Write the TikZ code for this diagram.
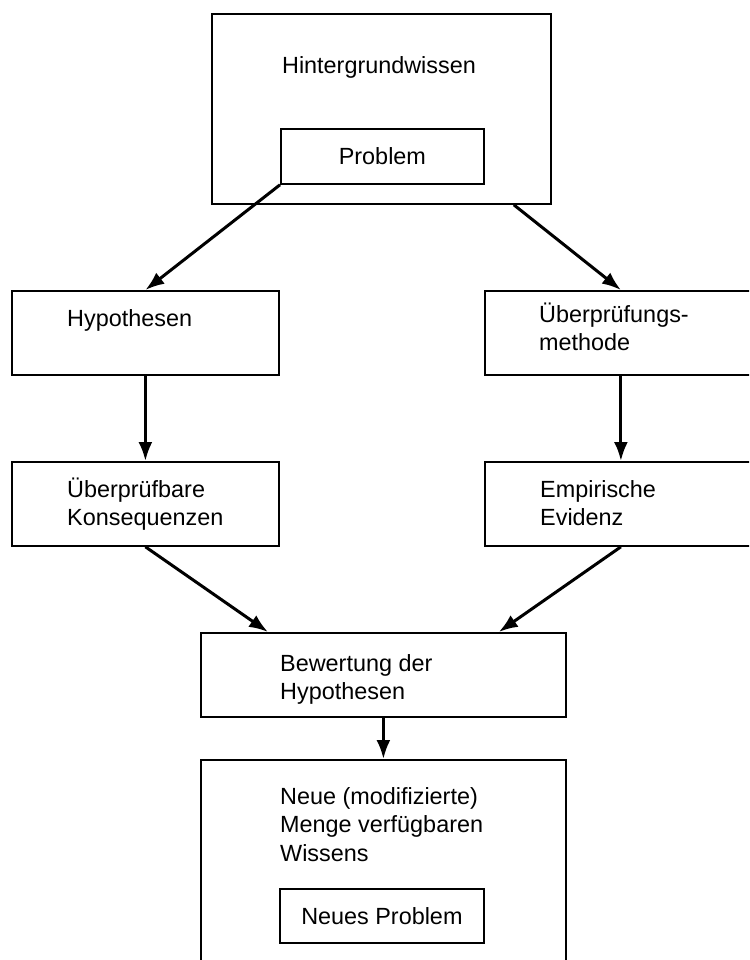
\documentclass[tikz,border=0pt]{standalone}
\usepackage{fontspec}
\setmainfont{Liberation Sans}
\usetikzlibrary{arrows.meta}
\begin{document}
\begin{tikzpicture}[x=1pt,y=-1pt,
  box/.style={draw=black, line width=1.8pt, rectangle, inner sep=0pt, anchor=north west},
  lbl/.style={font=\fontsize{23.4}{28.5}\selectfont, inner sep=0pt, align=left, anchor=base west},
  clbl/.style={font=\fontsize{23.4}{28.5}\selectfont, inner sep=0pt},
  arr/.style={line width=3pt, -{Latex[length=19pt,width=14pt]}}]
\useasboundingbox (0,0) rectangle (749,960);
\clip (0,0) rectangle (749,960);
% boxes
\node[box, minimum width=339pt, minimum height=190pt] (top) at (211,13) {};
\node[box, minimum width=203pt, minimum height=55pt] (prob) at (280,128) {};
\node[box, minimum width=267pt, minimum height=84pt] (hyp) at (11,290) {};
\node[box, minimum width=272pt, minimum height=84pt] (ueb) at (484,290) {};
\node[box, minimum width=267pt, minimum height=84pt] (kon) at (11,461) {};
\node[box, minimum width=272pt, minimum height=84pt] (evi) at (484,461) {};
\node[box, minimum width=365pt, minimum height=84pt] (bew) at (200,632) {};
\node[box, minimum width=365pt, minimum height=230pt] (neu) at (200,759) {};
\node[box, minimum width=204pt, minimum height=54pt] (nprob) at (279,888) {};
% texts
\node[clbl] (ttop) at (379,67) {Hintergrundwissen};
\node[clbl] (tprob) at (prob.center) {Problem};
\node[clbl] (tnprob) at (nprob.center) {Neues Problem};
\node[lbl] (thyp) at (67,326) {Hypothesen};
\node[lbl] (tueb) at (539,350.5) {Überprüfungs-\\methode};
\node[lbl] (tkon) at (67,525.5) {Überprüfbare\\Konsequenzen};
\node[lbl] (tevi) at (540,525.5) {Empirische\\Evidenz};
\node[lbl] (tbew) at (280,699.5) {Bewertung der\\Hypothesen};
\node[lbl] (tneu) at (280,861) {Neue (modifizierte)\\Menge verfügbaren\\Wissens};
% connectors
\draw[arr] (prob.south west) -- (hyp.north);
\draw[arr] ([xshift=-38pt]top.south east) -- (ueb.north);
\draw[arr] (hyp.south) -- (kon.north);
\draw[arr] (ueb.south) -- (evi.north);
\draw[arr] (kon.south) -- ([xshift=68pt]bew.north west);
\draw[arr] (evi.south) -- ([xshift=-68pt]bew.north east);
\draw[arr] (bew.south) -- (neu.north);
\end{tikzpicture}
\end{document}
